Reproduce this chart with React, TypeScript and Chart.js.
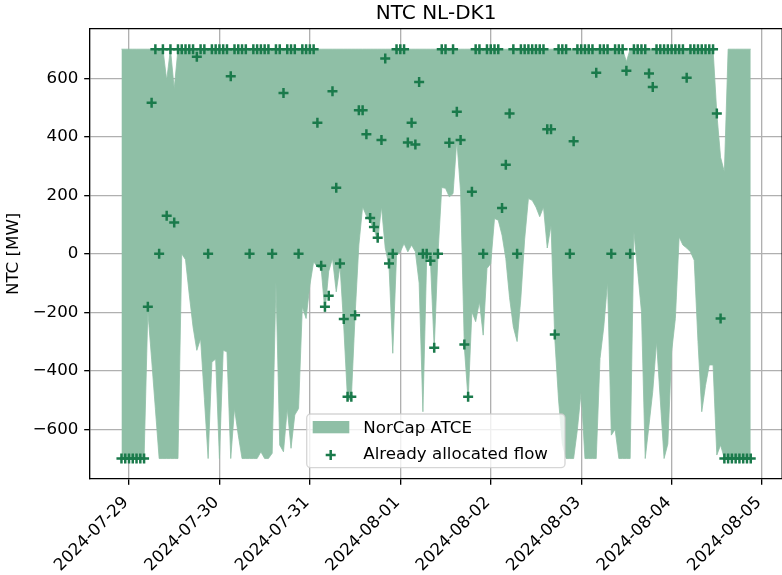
import React, { useEffect, useRef } from 'react';
import { Chart, registerables } from 'chart.js';

Chart.register(...registerables);

// hours relative to 2024-07-29 00:00; first sample is 2024-07-28 22:00
const FIRST_HOUR = -2;
const dayLabels = ['2024-07-29', '2024-07-30', '2024-07-31', '2024-08-01', '2024-08-02', '2024-08-03', '2024-08-04', '2024-08-05'];
const dayTickHours = [0, 24, 48, 72, 96, 120, 144, 168];
const yTickValues = [-600, -400, -200, 0, 200, 400, 600];

const upperATCE = [
  700, 700, 700, 700, 700, 700, 700, 700, 700, 700, 700, 700,
  594, 700, 565, 700, 700, 700, 700, 700, 700, 700, 700, 700,
  700, 700, 700, 700, 700, 700, 700, 700, 700, 700, 700, 700,
  700, 700, 700, 700, 700, 700, 700, 700, 700, 700, 700, 700,
  700, 700, 700, 700, 700, 700, 700, 700, 700, 700, 700, 700,
  700, 700, 700, 700, 700, 700, 700, 700, 700, 700, 700, 700,
  700, 700, 700, 700, 700, 700, 700, 700, 700, 700, 700, 700,
  700, 700, 700, 700, 700, 700, 700, 700, 700, 700, 700, 700,
  700, 700, 700, 700, 700, 700, 700, 700, 700, 700, 700, 700,
  700, 700, 700, 700, 700, 700, 700, 700, 700, 700, 700, 700,
  700, 700, 700, 700, 700, 700, 700, 700, 700, 700, 700, 700,
  700, 700, 657, 700, 700, 700, 700, 700, 700, 700, 700, 700,
  700, 700, 700, 700, 700, 700, 700, 700, 700, 700, 700, 700,
  700, 700, 480, 330, 280, 700, 700, 700, 700, 700, 700, 700,
];

const lowerATCE = [
  -700, -700, -700, -700, -700, -700, -700, -196, -360, -530, -700, -700,
  -700, -700, -700, -700, 0, -20, -140, -250, -330, -290, -495, -700,
  -370, -360, -700, -330, -335, -700, -529, -620, -700, -700, -700, -700,
  -700, -677, -700, -700, -682, -96, -654, -677, -529, -665, -551, -529,
  -181, -221, -107, -27, -45, -50, -200, -60, -16, -130, -40, -250,
  -500, -495, -210, 30, 161, 130, 110, 85, 45, 161, 20, -40,
  -340, -5, 7, 35, 7, 30, 7, -100, -540, -16, -24, -323,
  0, 227, 224, 195, 206, 389, 212, -320, -500, -198, -232, -164,
  -278, -50, -33, 121, 115, 64, -16, -150, -250, -300, -150, 50,
  189, 183, 160, 127, 160, 20, 98, -290, -500, -650, -700, -700,
  -700, -600, -470, -700, -700, -700, -700, -358, -250, -96, -620, -600,
  -700, -700, -700, -700, 75, -60, -198, -700, -586, -470, -300, -500,
  -700, -650, -335, -221, 58, 30, 20, 7, -22, -300, -540, -450,
  -380, -380, -688, -654, -700, -700, -700, -700, -700, -700, -700, -700,
];

const allocatedFlow = [
  -700, -700, -700, -700, -700, -700, -700, -181, 517, 700, 0, 700,
  130, 700, 107, 700, 700, 700, 700, 700, 674, 700, 700, 0,
  700, 700, 700, 700, 700, 607, 700, 700, 700, 700, 0, 700,
  700, 700, 700, 700, 0, 700, 700, 550, 700, 700, 700, 0,
  700, 700, 700, 700, 448, -41, -181, -143, 556, 226, -33, -223,
  -489, -489, -210, 491, 491, 409, 123, 92, 55, 389, 668, -33,
  0, 700, 700, 700, 381, 448, 374, 588, 0, 0, -24, -321,
  0, 700, 700, 380, 700, 486, 389, -310, -489, 212, 700, 700,
  0, 700, 700, 700, 700, 157, 305, 480, 700, 0, 700, 700,
  700, 700, 700, 700, 700, 426, 426, -276, 700, 700, 700, 0,
  385, 700, 700, 700, 700, 700, 619, 700, 700, 700, 0, 700,
  700, 700, 626, 0, 700, 700, 700, 700, 617, 571, 700, 700,
  700, 700, 700, 700, 700, 700, 602, 700, 700, 700, 700, 700,
  700, 700, 480, -221, -700, -700, -700, -700, -700, -700, -700, -700,
];

const FILL = '#8fbfa6';
const MARK = '#1a7a4b';
const FONT = "'DejaVu Sans', 'Liberation Sans', sans-serif";
const FS = 16.67;

export default function App() {
  const ref = useRef<HTMLCanvasElement>(null);

  useEffect(() => {
    const canvas = ref.current;
    if (!canvas) return;
    const hours = upperATCE.map((_, i) => FIRST_HOUR + i);
    const pts = (arr: number[]) => arr.map((v, i) => ({ x: hours[i], y: v }));

    const overlay = {
      id: 'overlay',
      afterDraw(chart: any) {
        const { ctx, chartArea: a } = chart;
        ctx.save();
        // top & right spines
        ctx.strokeStyle = '#000';
        ctx.lineWidth = 1.33;
        ctx.beginPath();
        ctx.moveTo(a.left, a.top);
        ctx.lineTo(a.right, a.top);
        ctx.lineTo(a.right, a.bottom);
        ctx.stroke();
        // title
        ctx.fillStyle = '#000';
        ctx.font = `20px ${FONT}`;
        ctx.textAlign = 'center';
        ctx.textBaseline = 'alphabetic';
        ctx.fillText('NTC NL-DK1', (a.left + a.right) / 2, a.top - 10);
        // y label
        ctx.save();
        ctx.translate(14, (a.top + a.bottom) / 2);
        ctx.rotate(-Math.PI / 2);
        ctx.font = `${FS}px ${FONT}`;
        ctx.textAlign = 'center';
        ctx.textBaseline = 'middle';
        ctx.fillText('NTC [MW]', 0, 0);
        ctx.restore();
        // legend
        const bx = 306.7, by = 414, bw = 258.3, bh = 53.7, r = 4;
        ctx.beginPath();
        ctx.moveTo(bx + r, by);
        ctx.lineTo(bx + bw - r, by);
        ctx.arcTo(bx + bw, by, bx + bw, by + r, r);
        ctx.lineTo(bx + bw, by + bh - r);
        ctx.arcTo(bx + bw, by + bh, bx + bw - r, by + bh, r);
        ctx.lineTo(bx + r, by + bh);
        ctx.arcTo(bx, by + bh, bx, by + bh - r, r);
        ctx.lineTo(bx, by + r);
        ctx.arcTo(bx, by, bx + r, by, r);
        ctx.closePath();
        ctx.fillStyle = 'rgba(255,255,255,0.8)';
        ctx.fill();
        ctx.strokeStyle = 'rgba(204,204,204,0.8)';
        ctx.lineWidth = 1.33;
        ctx.stroke();
        ctx.fillStyle = FILL;
        ctx.fillRect(312.7, 421, 36.6, 12.3);
        ctx.strokeStyle = MARK;
        ctx.lineWidth = 2.5;
        ctx.beginPath();
        ctx.moveTo(325.7, 455);
        ctx.lineTo(335.7, 455);
        ctx.moveTo(330.7, 450);
        ctx.lineTo(330.7, 460);
        ctx.stroke();
        ctx.fillStyle = '#000';
        ctx.font = `${FS}px ${FONT}`;
        ctx.textAlign = 'left';
        ctx.textBaseline = 'alphabetic';
        ctx.fillText('NorCap ATCE', 363.3, 433.3);
        ctx.fillText('Already allocated flow', 363.3, 459.3);
        ctx.restore();
      },
    };

    const chart = new Chart(canvas, {
      type: 'line',
      data: {
        datasets: [
          {
            label: 'lower',
            data: pts(lowerATCE),
            borderColor: FILL,
            borderWidth: 0.8,
            pointRadius: 0,
            fill: false,
            order: 2,
          },
          {
            label: 'NorCap ATCE',
            data: pts(upperATCE),
            borderColor: FILL,
            borderWidth: 0.8,
            backgroundColor: FILL,
            pointRadius: 0,
            fill: '-1',
            order: 1,
          },
          {
            type: 'scatter',
            label: 'Already allocated flow',
            data: pts(allocatedFlow),
            pointStyle: 'cross',
            pointRadius: 5,
            borderWidth: 2.5,
            borderColor: MARK,
            backgroundColor: MARK,
            order: 0,
          } as any,
        ],
      },
      options: {
        responsive: false,
        animation: false,
        devicePixelRatio: 1,
        events: [],
        layout: { padding: { top: 28.7, right: 7.8, left: 0, bottom: 0 } },
        elements: { line: { tension: 0 } },
        plugins: {
          legend: { display: false },
          tooltip: { enabled: false },
          title: { display: false },
        },
        scales: {
          x: {
            type: 'linear',
            min: -10.35,
            max: 173.35,
            z: 1,
            grid: {
              color: '#b0b0b0',
              lineWidth: 1.33,
              tickColor: '#000',
              tickLength: 5.8,
              tickWidth: 1.33,
            },
            border: { display: true, color: '#000', width: 1.33 },
            ticks: {
              autoSkip: false,
              minRotation: 45,
              maxRotation: 45,
              padding: 8,
              labelOffset: -3,
              color: '#000',
              font: { family: FONT, size: FS },
              callback: (v: any) => {
                const k = dayTickHours.indexOf(Number(v));
                return k >= 0 ? dayLabels[k] : '';
              },
            },
            afterBuildTicks: (s: any) => {
              s.ticks = dayTickHours.map((v) => ({ value: v }));
            },
            afterFit: (s: any) => {
              s.height = 96;
            },
          },
          y: {
            type: 'linear',
            min: -770,
            max: 770,
            z: 1,
            grid: {
              color: '#b0b0b0',
              lineWidth: 1.33,
              tickColor: '#000',
              tickLength: 5.8,
              tickWidth: 1.33,
            },
            border: { display: true, color: '#000', width: 1.33 },
            ticks: {
              padding: 5.8,
              color: '#000',
              font: { family: FONT, size: FS },
              callback: (v: any) => (Number(v) < 0 ? '\u2212' + Math.abs(Number(v)) : String(v)),
            },
            afterBuildTicks: (s: any) => {
              s.ticks = yTickValues.map((v) => ({ value: v }));
            },
            afterFit: (s: any) => {
              s.width = 90;
            },
          },
        },
      },
      plugins: [overlay],
    } as any);

    return () => chart.destroy();
  }, []);

  return (
    <div style={{ position: 'fixed', left: 0, top: 0, width: 782, height: 575, overflow: 'hidden', background: '#fff' }}>
      <canvas ref={ref} width={790} height={575} style={{ display: 'block', width: 790, height: 575 }} />
    </div>
  );
}
